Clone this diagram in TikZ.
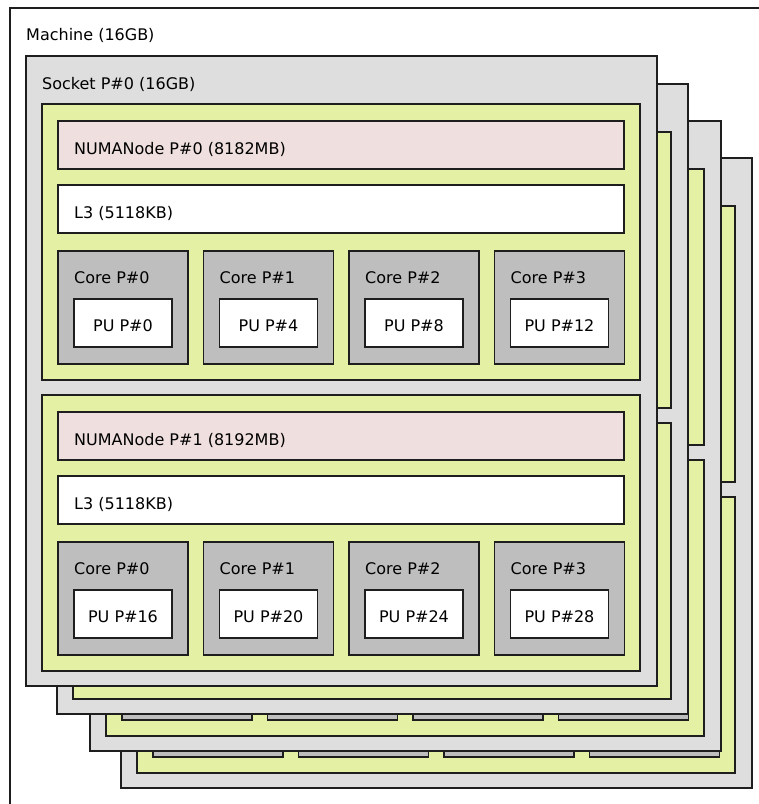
\documentclass[tikz,border=0pt]{standalone}
\usepackage{fontspec}
\setmainfont{DejaVu Sans}
\definecolor{sockfill}{RGB}{222,222,222}
\definecolor{groupfill}{RGB}{228,241,164}
\definecolor{numafill}{RGB}{239,223,222}
\definecolor{corefill}{RGB}{190,190,190}
\definecolor{edgecol}{RGB}{30,30,30}
\tikzset{
  frame/.style={draw=edgecol, line width=1.3pt},
  machinebox/.style={frame, fill=white},
  socketbox/.style={frame, fill=sockfill},
  groupbox/.style={frame, fill=groupfill},
  numabox/.style={frame, fill=numafill},
  cachebox/.style={frame, fill=white},
  corebox/.style={frame, fill=corefill},
  pubox/.style={frame, fill=white},
  lbl/.style={anchor=base west, inner sep=0pt, font=\fontsize{16}{19}\selectfont},
  pulbl/.style={anchor=base, inner sep=0pt, font=\fontsize{16}{19}\selectfont},
}
\newcommand\drawsocket[3]{%
\begin{scope}[shift={(#1,#2)}]
  \path[socketbox] (26,56) rectangle (657,686);
  \ifnum#3=1 \node[lbl] (socketlabel) at (42,89) {Socket P\#0 (16GB)};\fi
  \foreach \g/\numa in {0/8182,1/8192}{
    \pgfmathsetmacro\oy{291*\g}
    \begin{scope}[shift={(0,\oy)}]
      \path[groupbox] (42,104) rectangle (640,380);
      \path[numabox] (58,121) rectangle (624,169);
      \path[cachebox] (58,185) rectangle (624,233);
      \ifnum#3=1
        \node[lbl] (numa\g) at (74,154) {NUMANode P\#\g\ (\numa MB)};
        \node[lbl] (lthree\g) at (74,218) {L3 (5118KB)};
      \fi
      \foreach \c in {0,1,2,3}{
        \pgfmathsetmacro\cx{58+145.5*\c}
        \pgfmathtruncatemacro\pu{16*\g+4*\c}
        \path[corebox] (\cx,251) rectangle ++(130,113);
        \path[pubox] (\cx+16,299) rectangle ++(98,48);
        \ifnum#3=1
          \node[lbl] (core\g\c) at (\cx+16,283) {Core P\#\c};
          \node[pulbl] (pu\g\c) at (\cx+65,331.5) {PU P\#\pu};
        \fi
      }
    \end{scope}
  }
\end{scope}}
\begin{document}
\begin{tikzpicture}[x=1pt,y=-1pt]
  \useasboundingbox (0,0) rectangle (759,804);
  \clip (0,0) rectangle (759,804);
  \path[machinebox] (10,8) rectangle (775,804.6);
  \node[lbl] (machinelabel) at (26,40) {Machine (16GB)};
  \drawsocket{95}{102}{0}
  \drawsocket{64}{65}{0}
  \drawsocket{31}{28}{0}
  \drawsocket{0}{0}{1}
\end{tikzpicture}
\end{document}
